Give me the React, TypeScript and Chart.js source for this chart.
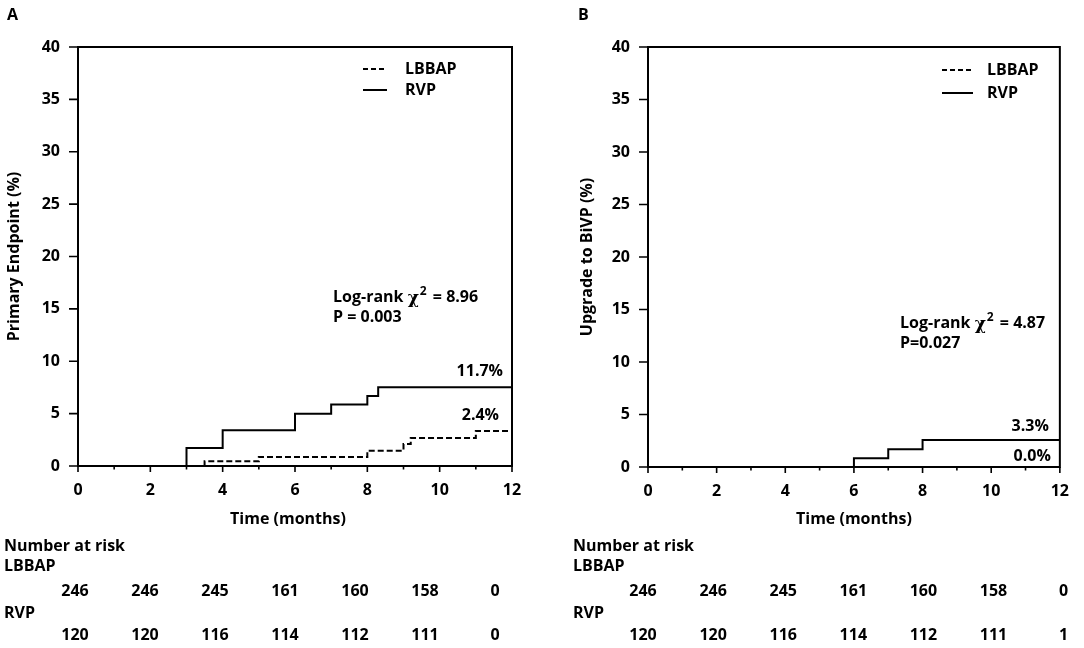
import React, { useEffect, useRef } from 'react';
import { Chart, registerables } from 'chart.js';

Chart.register(...registerables);

// ---------- data ----------
const xTickLabels = [0, 2, 4, 6, 8, 10, 12];
const xMinorTicks = [1, 3, 5, 7, 9, 11];
const yTickLabels = [0, 5, 10, 15, 20, 25, 30, 35, 40];

const aLbbapTimes = [0, 3.5, 5, 8, 9, 9.2, 11, 12];
const aLbbapValues = [0, 0.45, 0.86, 1.46, 2.1, 2.67, 3.34, 3.34];
const aRvpTimes = [0, 3, 4, 6, 7, 8, 8.3, 12];
const aRvpValues = [0, 1.72, 3.41, 5.0, 5.86, 6.69, 7.52, 7.52];

const bLbbapTimes = [0, 12];
const bLbbapValues = [0, 0];
const bRvpTimes = [0, 6, 7, 8, 12];
const bRvpValues = [0, 0.83, 1.7, 2.56, 2.56];

const riskTimes = [0, 2, 4, 6, 8, 10, 12];
const aRiskLbbap = [246, 246, 245, 161, 160, 158, 0];
const aRiskRvp = [120, 120, 116, 114, 112, 111, 0];
const bRiskLbbap = [246, 246, 245, 161, 160, 158, 0];
const bRiskRvp = [120, 120, 116, 114, 112, 111, 1];

const aEndLabels = ['11.7%', '2.4%'];
const bEndLabels = ['3.3%', '0.0%'];

const FONT = '"Open Sans", "Noto Sans", sans-serif';
const F16 = `bold 16px ${FONT}`;

type Panel = {
  canvasLeft: number;
  canvasWidth: number;
  padRight: number;
  padBottom: number;
  yWidth: number;
  letter: string;
  letterX: number;
  yTitle: string;
  yTitleX: number;
  xTitleShift: number;
  lbbap: { t: number[]; v: number[] };
  rvp: { t: number[]; v: number[] };
  endLabels: string[];
  endOffsets: { dx: number; dy: number }[];
  legend: { dashX0: number; dashX1: number; textX: number; y0: number; y1: number };
  stat: { x: number; y: number; chi: string; p: string };
  risk: { lbbap: number[]; rvp: number[]; factor: number; shift: number; labelX: number };
};

const panels: Panel[] = [
  {
    canvasLeft: 0,
    canvasWidth: 540,
    padRight: 28,
    padBottom: 122,
    yWidth: 78,
    letter: 'A',
    letterX: 7,
    yTitle: 'Primary Endpoint (%)',
    yTitleX: 14,
    xTitleShift: -7,
    lbbap: { t: aLbbapTimes, v: aLbbapValues },
    rvp: { t: aRvpTimes, v: aRvpValues },
    endLabels: aEndLabels,
    endOffsets: [
      { dx: -9, dy: -16 },
      { dx: -13, dy: -16 },
    ],
    legend: { dashX0: 363, dashX1: 387, textX: 405, y0: 69, y1: 90 },
    stat: { x: 333, y: 297, chi: '8.96', p: 'P = 0.003' },
    risk: { lbbap: aRiskLbbap, rvp: aRiskRvp, factor: 0.9677, shift: -3, labelX: 4 },
  },
  {
    canvasLeft: 560,
    canvasWidth: 524,
    padRight: 13,
    padBottom: 121,
    yWidth: 88,
    letter: 'B',
    letterX: 18,
    yTitle: 'Upgrade to BiVP (%)',
    yTitleX: 27,
    xTitleShift: 0,
    lbbap: { t: bLbbapTimes, v: bLbbapValues },
    rvp: { t: bRvpTimes, v: bRvpValues },
    endLabels: bEndLabels,
    endOffsets: [
      { dx: -11, dy: -14 },
      { dx: -9, dy: -11 },
    ],
    legend: { dashX0: 382, dashX1: 413, textX: 427, y0: 70, y1: 93 },
    stat: { x: 340, y: 323, chi: '4.87', p: 'P=0.027' },
    risk: { lbbap: bRiskLbbap, rvp: bRiskRvp, factor: 1.0213, shift: -5, labelX: 13 },
  },
];

function makePlugin(p: Panel) {
  return {
    id: 'kmDecor' + p.letter,
    afterDraw(chart: any) {
      const ctx: CanvasRenderingContext2D = chart.ctx;
      const area = chart.chartArea;
      const xs = chart.scales.x;
      const ys = chart.scales.y;
      ctx.save();
      ctx.strokeStyle = '#000';
      ctx.fillStyle = '#000';
      // frame
      ctx.lineWidth = 2;
      ctx.strokeRect(area.left, area.top, area.right - area.left, area.bottom - area.top);
      // x ticks
      ctx.lineWidth = 1.6;
      ctx.beginPath();
      xTickLabels.forEach((v) => {
        const px = xs.getPixelForValue(v);
        ctx.moveTo(px, area.bottom);
        ctx.lineTo(px, area.bottom + 6);
      });
      xMinorTicks.forEach((v) => {
        const px = xs.getPixelForValue(v);
        ctx.moveTo(px, area.bottom);
        ctx.lineTo(px, area.bottom + 3.5);
      });
      // y ticks
      yTickLabels.forEach((v) => {
        const py = ys.getPixelForValue(v);
        ctx.moveTo(area.left - 9, py);
        ctx.lineTo(area.left, py);
      });
      ctx.stroke();

      ctx.font = F16;
      ctx.textBaseline = 'middle';

      // panel letter
      ctx.textAlign = 'left';
      ctx.fillText(p.letter, p.letterX, 15);

      // y title
      ctx.save();
      ctx.translate(p.yTitleX, (area.top + area.bottom) / 2);
      ctx.rotate(-Math.PI / 2);
      ctx.textAlign = 'center';
      ctx.fillText(p.yTitle, 0, 0);
      ctx.restore();

      // x title
      ctx.textAlign = 'center';
      ctx.fillText('Time (months)', (area.left + area.right) / 2 + p.xTitleShift, 519);

      // legend
      ctx.lineWidth = 2;
      ctx.setLineDash([5, 3]);
      ctx.beginPath();
      ctx.moveTo(p.legend.dashX0, p.legend.y0);
      ctx.lineTo(p.legend.dashX1, p.legend.y0);
      ctx.stroke();
      ctx.setLineDash([]);
      ctx.beginPath();
      ctx.moveTo(p.legend.dashX0, p.legend.y1);
      ctx.lineTo(p.legend.dashX1, p.legend.y1);
      ctx.stroke();
      ctx.textAlign = 'left';
      ctx.fillText('LBBAP', p.legend.textX, p.legend.y0);
      ctx.fillText('RVP', p.legend.textX, p.legend.y1);

      // stats
      let sx = p.stat.x;
      const t1 = 'Log-rank ';
      ctx.fillText(t1, sx, p.stat.y);
      sx += ctx.measureText(t1).width;
      ctx.font = `bold 17px "DejaVu Serif", serif`;
      ctx.fillText('\u03C7', sx, p.stat.y + 2);
      sx += ctx.measureText('\u03C7').width + 1;
      ctx.font = `bold 12px ${FONT}`;
      ctx.fillText('2', sx, p.stat.y - 5);
      sx += ctx.measureText('2').width;
      ctx.font = F16;
      ctx.fillText(' = ' + p.stat.chi, sx + 2, p.stat.y);
      ctx.fillText(p.stat.p, p.stat.x, p.stat.y + 20);

      // end labels
      ctx.textAlign = 'right';
      const ends = [p.rvp, p.lbbap];
      ends.forEach((s, i) => {
        const last = s.v[s.v.length - 1];
        const px = xs.getPixelForValue(12) + p.endOffsets[i].dx;
        const py = ys.getPixelForValue(last) + p.endOffsets[i].dy;
        ctx.fillText(p.endLabels[i], px, py);
      });

      // number at risk
      ctx.textAlign = 'left';
      ctx.fillText('Number at risk', p.risk.labelX, 546);
      ctx.fillText('LBBAP', p.risk.labelX, 566);
      ctx.fillText('RVP', p.risk.labelX, 613);
      ctx.textAlign = 'center';
      riskTimes.forEach((t, i) => {
        const px = xs.getPixelForValue(t * p.risk.factor) + p.risk.shift;
        ctx.fillText(String(p.risk.lbbap[i]), px, 591);
        ctx.fillText(String(p.risk.rvp[i]), px, 635);
      });
      ctx.restore();
    },
  };
}

function KMPanel({ p }: { p: Panel }) {
  const ref = useRef<HTMLCanvasElement | null>(null);
  useEffect(() => {
    if (!ref.current) return;
    const toPts = (s: { t: number[]; v: number[] }) => s.t.map((t, i) => ({ x: t, y: s.v[i] }));
    const chart = new Chart(ref.current, {
      type: 'line',
      data: {
        datasets: [
          {
            label: 'LBBAP',
            data: toPts(p.lbbap),
            borderColor: '#000',
            borderWidth: 2,
            borderDash: [6, 3],
            stepped: true,
            pointRadius: 0,
            fill: false,
          },
          {
            label: 'RVP',
            data: toPts(p.rvp),
            borderColor: '#000',
            borderWidth: 2,
            stepped: true,
            pointRadius: 0,
            fill: false,
          },
        ],
      },
      options: {
        animation: false,
        responsive: false,
        devicePixelRatio: 1,
        layout: { padding: { top: 47, right: p.padRight, left: 0, bottom: p.padBottom } },
        plugins: { legend: { display: false }, tooltip: { enabled: false } },
        scales: {
          x: {
            type: 'linear',
            min: 0,
            max: 12,
            ticks: { stepSize: 2, color: '#000', font: { family: FONT, size: 16, weight: 'bold' }, padding: 15, maxRotation: 0 },
            grid: { display: false, drawTicks: false },
            border: { display: false },
            afterFit: (s: any) => {
              s.height = 60;
            },
          },
          y: {
            type: 'linear',
            min: 0,
            max: 40,
            ticks: { stepSize: 5, color: '#000', font: { family: FONT, size: 16, weight: 'bold' }, padding: 18 },
            grid: { display: false, drawTicks: false },
            border: { display: false },
            afterFit: (s: any) => {
              s.width = p.yWidth;
            },
          },
        },
      } as any,
      plugins: [makePlugin(p)],
    });
    return () => chart.destroy();
  }, [p]);
  return (
    <canvas
      ref={ref}
      width={p.canvasWidth}
      height={648}
      style={{ position: 'absolute', left: p.canvasLeft, top: 0, width: p.canvasWidth, height: 648 }}
    />
  );
}

export default function App() {
  return (
    <div style={{ position: 'fixed', left: 0, top: 0, width: 1084, height: 648, background: '#fff', overflow: 'hidden' }}>
      {panels.map((p) => (
        <KMPanel key={p.letter} p={p} />
      ))}
    </div>
  );
}
